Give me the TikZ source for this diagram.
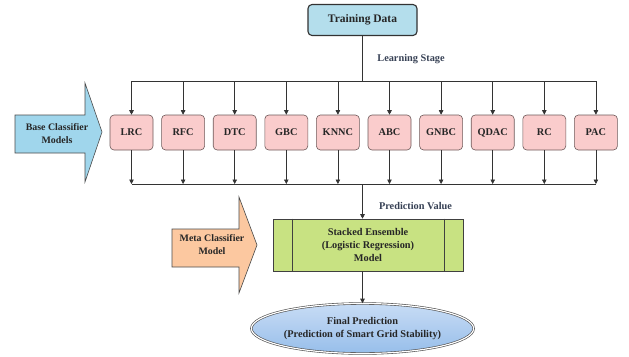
\documentclass[tikz,border=0pt]{standalone}
\usepackage{fontspec}
\setmainfont{Liberation Serif}
\usetikzlibrary{arrows.meta,shapes.geometric,calc}
\definecolor{tdfill}{RGB}{180,222,236}
\definecolor{clfill}{RGB}{250,204,204}
\definecolor{clline}{RGB}{110,90,90}
\definecolor{mefill}{RGB}{200,226,130}
\definecolor{elfill}{RGB}{150,190,234}
\definecolor{eltop}{RGB}{200,220,245}
\definecolor{barrow}{RGB}{160,214,236}
\definecolor{marrow}{RGB}{252,200,160}
\definecolor{lbl}{RGB}{55,65,85}
\tikzset{
  txt/.style={font=\bfseries\fontsize{10.3}{12.6}\selectfont, text=black!85, align=center},
  tdbox/.style={txt, font=\bfseries\fontsize{11.5}{13}\selectfont, draw=black!80, line width=1.1pt, fill=tdfill, rounded corners=4pt, minimum width=109pt, minimum height=31pt, inner sep=0pt},
  clbox/.style={txt, draw=clline, line width=0.6pt, fill=clfill, rounded corners=4pt, minimum width=43pt, minimum height=35pt, inner sep=0pt},
  mebox/.style={txt, draw=black!75, line width=0.6pt, fill=mefill, minimum width=190pt, minimum height=52pt, inner sep=0pt},
  elbox/.style={txt, ellipse, draw=black!70, double=white, double distance=1.2pt, line width=0.6pt, top color=eltop, bottom color=elfill, minimum width=212pt, minimum height=50pt, inner sep=0pt},
  conn/.style={draw=black!80, line width=0.6pt},
  arr/.style={conn, -{Triangle[length=4.5pt,width=4.5pt]}},
  bigarrow/.style={draw=black!70, line width=0.6pt},
  arrtxt/.style={txt, font=\bfseries\fontsize{9.9}{12.8}\selectfont},
  lab/.style={font=\bfseries\fontsize{10.3}{12}\selectfont, text=lbl}
}
\begin{document}
\begin{tikzpicture}[x=1pt,y=-1pt]
\useasboundingbox (0,0) rectangle (629,356);
\fill[white] (0,0) rectangle (629,356);

% big arrows
\draw[bigarrow, fill=barrow] (15,115) -- (85,115) -- (85,83) -- (102,132) -- (85,182) -- (85,153) -- (15,153) -- cycle;
\node[arrtxt] (basel) at (57,133.5) {Base Classifier\\Models};
\draw[bigarrow, fill=marrow] (172,229) -- (239,229) -- (239,197) -- (257,245) -- (239,293) -- (239,267) -- (172,267) -- cycle;
\node[arrtxt] (metal) at (212,244.5) {Meta Classifier\\Model};

% nodes
\node[tdbox] (train) at (362.5,20) {Training Data};
\foreach \n [count=\i from 0] in {LRC,RFC,DTC,GBC,KNNC,ABC,GNBC,QDAC,RC,PAC}{
  \node[clbox] (c\i) at ({131.5+51.6*\i},132.5) {\n};
}
\node[mebox] (meta) at (368,245) {Stacked Ensemble\\(Logistic Regression)\\Model};
\draw[line width=0.6pt, draw=black!75] ([xshift=20pt]meta.north west) -- ([xshift=20pt]meta.south west);
\draw[line width=0.6pt, draw=black!75] ([xshift=-19pt]meta.north east) -- ([xshift=-19pt]meta.south east);
\node[elbox] (final) at (362.5,328.5) {Final Prediction\\(Prediction of Smart Grid Stability)};

\coordinate (tb) at (362.5,81);
\coordinate (bb) at (362.5,184);

% connectors
\draw[conn] (train) -- (tb);
\draw[conn] (c0.north |- tb) -- (c9.north |- tb);
\draw[conn] (c0.south |- bb) -- (c9.south |- bb);
\foreach \i in {0,...,9}{
  \draw[arr] (c\i.north |- tb) -- (c\i.north);
  \draw[arr] (c\i.south) -- (c\i.south |- bb);
}
\draw[arr] (bb) -- (bb |- meta.north);
\draw[arr] (bb |- meta.south) -- (final.north);

% labels
\node[lab] (ls) at (411,59.5) {Learning Stage};
\node[lab] (pv) at (415.5,206) {Prediction Value};
\end{tikzpicture}
\end{document}
